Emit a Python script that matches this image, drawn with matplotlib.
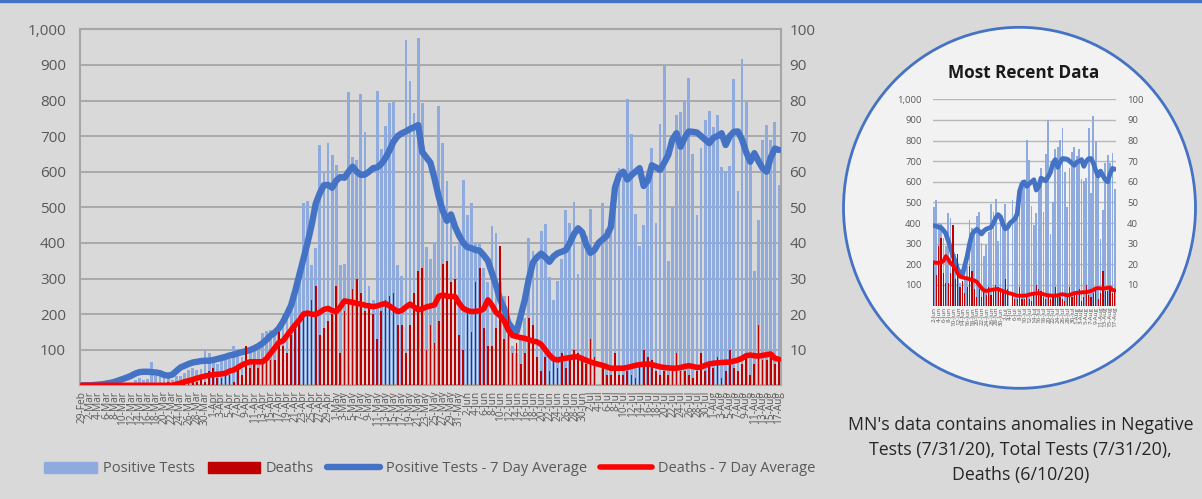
import pandas as pd
import matplotlib
matplotlib.use('Agg')
import matplotlib.pyplot as plt
from matplotlib.patches import Ellipse, Patch
from matplotlib.lines import Line2D
from matplotlib.ticker import FuncFormatter

plt.rcParams['font.family'] = ['Open Sans', 'DejaVu Sans']

# one category per day, 29-Feb .. 17-Aug 2020
dates = pd.date_range('2020-02-29', '2020-08-17', freq='D')
day_labels = [f'{d.day}-{d.strftime("%b")}' for d in dates]

positive_tests = [
    0,
    # Mar
    0, 0, 0, 0, 0, 1, 1, 1, 2, 3, 4, 5, 14, 21, 14, 19, 65, 27, 25, 26,
    23, 15, 25, 27, 35, 42, 50, 43, 45, 99, 90,
    # Apr
    80, 60, 85, 80, 75, 110, 90, 80, 110, 95, 100, 105, 146, 152, 155,
    150, 140, 200, 190, 230, 290, 330, 511, 518, 338, 385, 675, 600, 680, 647,
    # May
    619, 338, 340, 824, 640, 632, 817, 711, 280, 240, 827, 663, 729, 793, 800,
    338, 308, 970, 855, 766, 975, 792, 389, 355, 402, 785, 680, 573, 480, 390, 400,
    # Jun
    576, 477, 511, 399, 396, 330, 290, 448, 427, 290, 250, 200, 110, 90, 140,
    190, 413, 376, 343, 434, 452, 305, 240, 293, 356, 492, 455, 516, 312, 408,
    # Jul
    420, 494, 394, 0, 511, 440, 470, 560, 610, 580, 804, 705, 482, 390, 450,
    577, 666, 455, 733, 900, 349, 502, 759, 767, 802, 862, 649, 477, 666, 746, 771,
    # Aug
    725, 759, 614, 602, 617, 860, 546, 917, 797, 625, 321, 464, 689, 731, 689,
    739, 563,
]

positive_avg = [
    0,
    0, 0, 1, 2, 3, 5, 7, 10, 14, 18, 22, 27, 33, 37, 38, 38, 37, 36, 34, 29,
    27, 30, 40, 50, 55, 60, 64, 66, 68, 69, 69,
    71, 74, 77, 80, 84, 86, 90, 93, 96, 99, 104, 110, 118, 128, 140,
    148, 160, 178, 200, 225, 265, 310, 355, 400, 450, 510, 540, 562, 563, 555,
    575, 585, 583, 600, 614, 600, 591, 592, 600, 610, 612, 622, 638, 660, 685,
    700, 708, 713, 720, 725, 731, 655, 640, 625, 580, 530, 490, 462, 480, 445, 420,
    400, 388, 385, 380, 378, 365, 350, 315, 280, 240, 215, 175, 160, 150, 195,
    240, 300, 345, 360, 370, 360, 347, 362, 371, 375, 380, 400, 425, 441, 430,
    395, 372, 380, 400, 410, 420, 445, 555, 590, 600, 578, 590, 600, 610, 560,
    575, 618, 612, 605, 625, 647, 690, 708, 670, 695, 713, 712, 710, 700, 690, 680,
    695, 700, 708, 675, 700, 712, 713, 690, 655, 628, 652, 630, 610, 600, 640,
    665, 661,
]

deaths = [
    0,
    0, 0, 0, 0, 0, 0, 0, 0, 0, 0, 0, 0, 0, 0, 0, 0, 0, 0, 0, 0,
    1, 0, 1, 0, 1, 1, 2, 1, 3, 1, 4,
    5, 2, 2, 3, 3, 1, 5, 3, 11, 5, 6, 5, 6, 7, 7,
    7, 15, 11, 9, 14, 17, 19, 21, 21, 24, 28, 14, 16, 18, 20,
    28, 9, 21, 23, 27, 30, 26, 21, 23, 20, 13, 21, 24, 25, 26,
    17, 17, 9, 17, 26, 32, 33, 10, 17, 12, 18, 34, 35, 29, 30, 14,
    10, 21, 15, 29, 33, 16, 11, 11, 16, 39, 13, 25, 9, 12, 6,
    9, 19, 17, 8, 4, 8, 4, 7, 5, 9, 5, 8, 10, 9, 7,
    6, 13, 8, 0, 5, 3, 3, 9, 3, 3, 4, 3, 2, 6, 10,
    8, 7, 4, 3, 4, 3, 4, 9, 4, 4, 3, 2, 4, 9, 4, 6,
    5, 8, 2, 4, 10, 5, 4, 6, 8, 3, 6, 17, 7, 7, 8,
    6, 8,
]

deaths_avg = [
    0,
    0, 0, 0, 0, 0, 0, 0, 0, 0, 0, 0, 0, 0, 0, 0, 0, 0, 0, 0, 0, 0, 0,
    0.3, 0.6, 1.0, 1.3, 1.6, 2.0, 2.3, 2.6, 2.8,
    3.0, 3.1, 3.2, 3.4, 4.0, 4.3, 5.0, 5.7, 6.2, 6.6, 6.6, 6.6, 6.6, 7.5, 9.0,
    10.5, 12.0, 12.5, 14.0, 15.5, 17.0, 18.3, 20.0, 20.3, 20.0, 19.9, 20.5, 21.3, 21.6, 21.0,
    20.7, 22.0, 23.7, 23.5, 23.3, 23.0, 22.8, 22.5, 22.3, 22.1, 22.3, 22.7, 23.0, 22.3, 21.5,
    20.7, 21.0, 22.0, 22.8, 22.0, 21.2, 21.5, 22.0, 22.3, 22.6, 25.0, 25.4, 25.0, 25.0, 24.9, 23.0,
    21.6, 21.0, 20.7, 20.8, 20.9, 21.5, 24.0, 22.5, 20.5, 19.5, 18.0, 15.5, 14.0, 13.7, 13.4,
    13.2, 12.8, 12.4, 12.2, 11.5, 10.0, 8.5, 7.4, 7.1, 7.4, 7.6, 7.8, 8.0, 8.0, 7.5,
    7.0, 6.6, 6.2, 5.9, 5.6, 5.2, 4.8, 4.8, 4.8, 4.8, 5.0, 5.3, 5.6, 5.8, 5.9,
    6.0, 5.8, 5.5, 5.2, 5.0, 4.9, 4.8, 4.8, 5.0, 5.3, 5.5, 5.3, 5.0, 5.1, 5.6, 6.0,
    6.2, 6.3, 6.4, 6.5, 6.5, 6.8, 7.1, 7.6, 8.3, 8.5, 8.3, 8.2, 8.4, 8.6, 8.8,
    7.6, 7.3,
]

recent_start = '2020-06-02'   # first day shown in the "Most Recent Data" panel

note_lines = ["MN's data contains anomalies in Negative",
              'Tests (7/31/20), Total Tests (7/31/20),',
              'Deaths (6/10/20)']

BG = '#d9d9d9'
GRID = '#a6a6a6'
TXT = '#595959'
BAR_BLUE = '#8faadc'
BAR_RED = '#c00000'
LINE_BLUE = '#4472c4'
LINE_RED = '#ff0000'

W, H = 1202, 499


def fx(px):
    return px / W


def fy(py):
    return 1 - py / H


def thousands(v, pos):
    return '' if v == 0 else f'{int(v):,}'


def combo(ax, pos, pos_av, dth, dth_av, labels, small=False):
    x = list(range(len(pos)))
    ax.bar(x, pos, width=0.68 if not small else 0.75, color=BAR_BLUE, zorder=2)
    ax.plot(x, pos_av, color=LINE_BLUE, lw=3.4 if small else 4.6,
            solid_capstyle='round', solid_joinstyle='round', zorder=3)
    ax2 = ax.twinx()
    ax2.bar(x, dth, width=0.42 if not small else 0.5, color=BAR_RED, zorder=2)
    ax2.plot(x, dth_av, color=LINE_RED, lw=2.8 if small else 4.0,
             solid_capstyle='round', solid_joinstyle='round', zorder=3)

    ax.set_xlim(-0.5, len(pos) - 0.5)
    ax.set_ylim(0, 1000)
    ax2.set_ylim(0, 100)
    ax.set_yticks(range(0, 1001, 100))
    ax2.set_yticks(range(0, 101, 10))
    ax.yaxis.set_major_formatter(FuncFormatter(thousands))
    ax2.yaxis.set_major_formatter(FuncFormatter(thousands))
    ax.yaxis.grid(True, color=GRID if not small else '#b8b8b8', lw=1.3 if not small else 1.0)
    ax.set_axisbelow(True)

    ax.set_xticks(x[::2])
    ax.set_xticklabels(labels[::2], rotation=90)
    fs = 6.8 if small else 11
    ax.tick_params(axis='y', length=0, labelsize=fs, labelcolor=TXT, pad=8 if small else 10)
    ax2.tick_params(axis='y', length=0, labelsize=fs, labelcolor=TXT, pad=8 if small else 6)
    ax.tick_params(axis='x', length=0, labelsize=4.5 if small else 7.3,
                   labelcolor=TXT, pad=1 if small else 4)
    for s in ax2.spines.values():
        s.set_visible(False)
    for s in ax.spines.values():
        s.set_visible(not small)
        s.set_color(GRID)
        s.set_linewidth(1.5)
    ax.set_facecolor('none')
    return ax2


fig = plt.figure(figsize=(W / 100, H / 100), dpi=100, facecolor=BG)

# top border
fig.add_artist(Line2D([0, 1], [fy(1.2), fy(1.2)], transform=fig.transFigure,
                      color=LINE_BLUE, lw=2.4))

# main chart
ax = fig.add_axes([fx(80), fy(385.3), fx(781 - 80), (385.3 - 29.3) / H])
combo(ax, positive_tests, positive_avg, deaths, deaths_avg, day_labels)

handles = [Patch(color=BAR_BLUE), Patch(color=BAR_RED),
           Line2D([], [], color=LINE_BLUE, lw=4.6, solid_capstyle='round'),
           Line2D([], [], color=LINE_RED, lw=4.0, solid_capstyle='round')]
fig.legend(handles, ['Positive Tests', 'Deaths', 'Positive Tests - 7 Day Average',
                     'Deaths - 7 Day Average'],
           loc='center', bbox_to_anchor=(fx(430), fy(469)), ncol=4, frameon=False,
           fontsize=10.5, labelcolor=TXT, handlelength=3.6, handleheight=0.75,
           handletextpad=0.4, columnspacing=0.9)

# "Most Recent Data" panel in a circle
fig.add_artist(Ellipse((fx(1019.5), fy(207.8)), width=2 * 176 / W, height=2 * 180.5 / H,
                       transform=fig.transFigure, facecolor='#f2f2f2',
                       edgecolor=LINE_BLUE, lw=2, zorder=-1))
k = list(dates).index(pd.Timestamp(recent_start))
ax_in = fig.add_axes([fx(932.7), fy(305.6), fx(1116 - 932.7), (305.6 - 99.3) / H])
combo(ax_in, positive_tests[k:], positive_avg[k:], deaths[k:], deaths_avg[k:],
      day_labels[k:], small=True)
fig.text(fx(1024), fy(73), 'Most Recent Data', ha='center', va='center',
         fontsize=12.3, fontweight='bold', color='#1a1a1a')

for line, yy in zip(note_lines, [425, 450, 475]):
    fig.text(fx(1020.5), fy(yy), line, ha='center', va='center', fontsize=12.8,
             color='#262626')

fig.savefig('out.png', dpi=100, facecolor=BG)
